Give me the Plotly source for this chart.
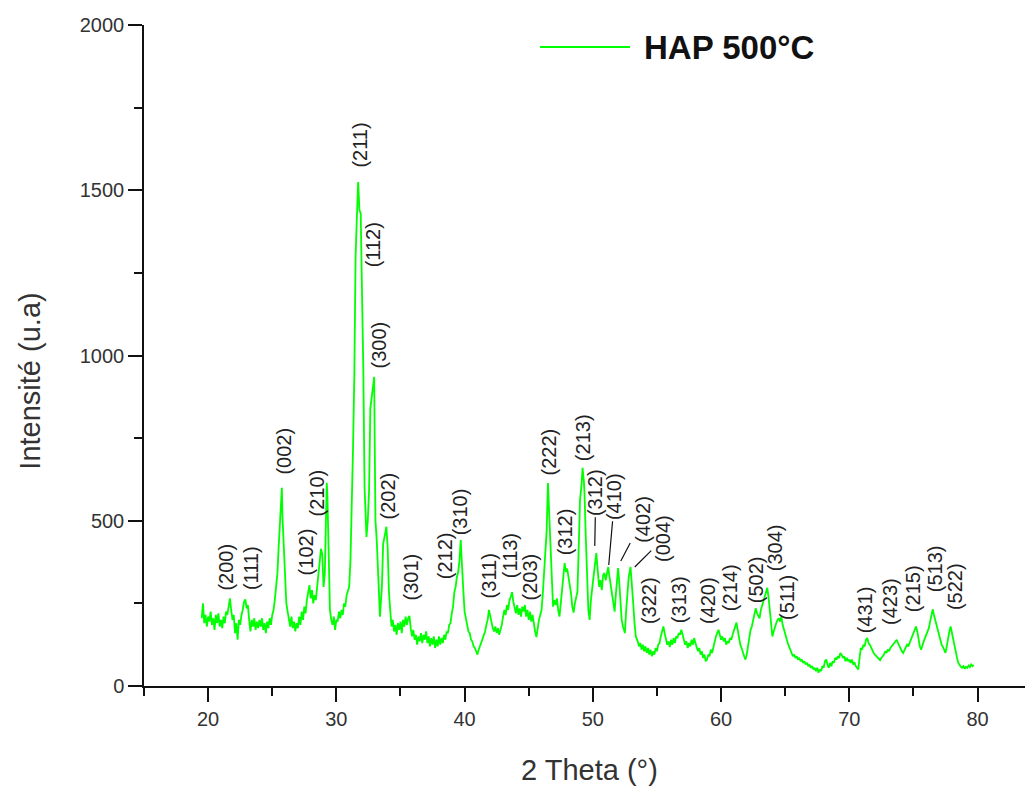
import plotly.graph_objects as go

# ---------------- data ----------------
two_theta = [
    19.5, 19.6, 19.7, 19.8, 19.9,
    20.0, 20.1, 20.2, 20.3, 20.4, 20.5, 20.6, 20.7, 20.8, 20.9,
    21.0, 21.1, 21.2, 21.3, 21.4, 21.5, 21.6, 21.7, 21.8, 21.9,
    22.0, 22.1, 22.2, 22.3, 22.4, 22.5, 22.6, 22.7, 22.8, 22.9,
    23.0, 23.1, 23.2, 23.3, 23.4, 23.5, 23.6, 23.7, 23.8, 23.9,
    24.0, 24.1, 24.2, 24.3, 24.4, 24.5, 24.6, 24.7, 24.8, 24.9,
    25.0, 25.1, 25.2, 25.3, 25.4, 25.5, 25.6, 25.7, 25.75, 25.8, 25.9,
    26.0, 26.1, 26.2, 26.3, 26.4, 26.5, 26.6, 26.7, 26.8, 26.9,
    27.0, 27.1, 27.2, 27.3, 27.4, 27.5, 27.6, 27.7, 27.8, 27.9,
    28.0, 28.1, 28.2, 28.3, 28.4, 28.5, 28.6, 28.7, 28.8, 28.9,
    29.0, 29.1, 29.2, 29.25, 29.3, 29.4, 29.5, 29.6, 29.7, 29.8, 29.9,
    30.0, 30.1, 30.2, 30.3, 30.4, 30.5, 30.6, 30.7, 30.8, 30.9,
    31.0, 31.1, 31.2, 31.3, 31.4, 31.5, 31.6, 31.7, 31.8, 31.9,
    32.0, 32.1, 32.2, 32.3, 32.35, 32.45, 32.55, 32.65, 32.75, 32.85, 32.95,
    33.0, 33.05, 33.15, 33.25, 33.4, 33.55, 33.65, 33.8, 33.9,
    34.0, 34.1, 34.2, 34.3, 34.4, 34.5, 34.6, 34.7, 34.8, 34.9,
    35.0, 35.1, 35.2, 35.3, 35.4, 35.5, 35.6, 35.7, 35.8, 35.9,
    36.0, 36.1, 36.2, 36.3, 36.4, 36.5, 36.6, 36.7, 36.8, 36.9,
    37.0, 37.1, 37.2, 37.3, 37.4, 37.5, 37.6, 37.7, 37.8, 37.9,
    38.0, 38.1, 38.2, 38.3, 38.4, 38.5, 38.6, 38.7, 38.8, 38.9,
    39.0, 39.1, 39.2, 39.3, 39.4, 39.5, 39.6, 39.7, 39.75, 39.8, 39.9,
    40.0, 40.1, 40.2, 40.3, 40.4, 40.5, 40.6, 40.7, 40.8, 40.9,
    41.0, 41.1, 41.2, 41.3, 41.4, 41.5, 41.6, 41.7, 41.8, 41.9,
    42.0, 42.1, 42.2, 42.3, 42.4, 42.5, 42.6, 42.7, 42.8, 42.9,
    43.0, 43.1, 43.2, 43.3, 43.4, 43.5, 43.6, 43.7, 43.8, 43.9,
    44.0, 44.1, 44.2, 44.3, 44.4, 44.5, 44.6, 44.7, 44.8, 44.9,
    45.0, 45.1, 45.2, 45.3, 45.4, 45.5, 45.6, 45.7, 45.8, 45.9,
    46.0, 46.1, 46.2, 46.3, 46.4, 46.5, 46.6, 46.7, 46.8, 46.9,
    47.0, 47.1, 47.2, 47.3, 47.4, 47.5, 47.6, 47.7, 47.8, 47.9,
    48.0, 48.1, 48.2, 48.3, 48.4, 48.5, 48.6, 48.7, 48.8, 48.9,
    49.0, 49.1, 49.2, 49.3, 49.35, 49.45, 49.55, 49.65, 49.75, 49.85,
    50.0, 50.1, 50.2, 50.27, 50.4, 50.5, 50.6, 50.7, 50.8, 50.9,
    51.0, 51.1, 51.2, 51.3, 51.45, 51.55, 51.7, 51.8, 51.9, 51.97,
    52.05, 52.15, 52.25, 52.35, 52.5, 52.6, 52.7, 52.8, 52.94,
    53.05, 53.15, 53.25, 53.35, 53.5, 53.6, 53.7, 53.8, 53.9,
    54.0, 54.1, 54.2, 54.3, 54.4, 54.5, 54.6, 54.7, 54.8, 54.9,
    55.0, 55.1, 55.2, 55.3, 55.4, 55.5, 55.6, 55.7, 55.8, 55.9,
    56.0, 56.1, 56.2, 56.3, 56.4, 56.5, 56.6, 56.7, 56.8, 56.9,
    57.0, 57.1, 57.2, 57.3, 57.4, 57.5, 57.6, 57.7, 57.8, 57.9,
    58.0, 58.1, 58.2, 58.3, 58.4, 58.5, 58.6, 58.7, 58.8, 58.9,
    59.0, 59.1, 59.2, 59.3, 59.4, 59.5, 59.6, 59.7, 59.8, 59.9,
    60.0, 60.1, 60.2, 60.3, 60.4, 60.5, 60.6, 60.7, 60.8, 60.9,
    61.0, 61.1, 61.2, 61.3, 61.4, 61.5, 61.6, 61.7, 61.8, 61.9,
    62.0, 62.1, 62.2, 62.3, 62.4, 62.5, 62.6, 62.7, 62.8, 62.9,
    63.0, 63.1, 63.2, 63.3, 63.4, 63.5, 63.6, 63.7, 63.8, 63.9,
    64.0, 64.1, 64.2, 64.3, 64.4, 64.5, 64.6, 64.7, 64.8, 64.9,
    65.0, 65.1, 65.2, 65.3, 65.4, 65.5, 65.6, 65.7, 65.8, 65.9,
    66.0, 66.1, 66.2, 66.3, 66.4, 66.5, 66.6, 66.7, 66.8, 66.9,
    67.0, 67.1, 67.2, 67.3, 67.4, 67.5, 67.6, 67.7, 67.8, 67.9,
    68.0, 68.1, 68.2, 68.3, 68.4, 68.5, 68.6, 68.7, 68.8, 68.9,
    69.0, 69.1, 69.2, 69.3, 69.4, 69.5, 69.6, 69.7, 69.8, 69.9,
    70.0, 70.1, 70.2, 70.3, 70.4, 70.5, 70.6, 70.7, 70.8, 70.9,
    71.0, 71.1, 71.2, 71.3, 71.4, 71.5, 71.6, 71.7, 71.8, 71.9,
    72.0, 72.1, 72.2, 72.3, 72.4, 72.5, 72.6, 72.7, 72.8, 72.9,
    73.0, 73.1, 73.2, 73.3, 73.4, 73.5, 73.6, 73.7, 73.8, 73.9,
    74.0, 74.1, 74.2, 74.3, 74.4, 74.5, 74.6, 74.7, 74.8, 74.9,
    75.0, 75.1, 75.2, 75.3, 75.4, 75.5, 75.6, 75.7, 75.8, 75.9,
    76.0, 76.1, 76.2, 76.3, 76.4, 76.5, 76.6, 76.7, 76.8, 76.9,
    77.0, 77.1, 77.2, 77.3, 77.4, 77.5, 77.6, 77.7, 77.8, 77.9,
    78.0, 78.1, 78.2, 78.3, 78.4, 78.5, 78.6, 78.7, 78.8, 78.9,
    79.0, 79.1, 79.2, 79.3, 79.4, 79.5, 79.6, 79.7,
]

intensity = [
    205, 250, 190, 215, 180,
    210, 195, 225, 185, 205, 170, 215, 190, 220, 180,
    200, 175, 210, 190, 225, 215, 250, 265, 230, 200,
    215, 160, 190, 140, 200, 185, 215, 230, 255, 262,
    235, 245, 200, 165, 200, 180, 205, 170, 195, 175,
    200, 180, 205, 170, 190, 160, 195, 175, 205, 185,
    215, 230, 260, 300, 340, 420, 480, 560, 600, 510, 420,
    360, 250, 225, 200, 180, 210, 175, 195, 165, 190,
    175, 210, 185, 225, 200, 240, 220, 260, 280, 305,
    265, 290, 250, 275, 260, 300, 340, 380, 415, 400,
    300, 340, 520, 615, 580, 430, 230, 200, 185, 210, 170,
    200, 195, 225, 205, 230, 215, 250, 240, 275, 290,
    300, 380, 520, 720, 935, 1300, 1420, 1525, 1440, 1430,
    1190, 965, 600, 480, 451, 500, 590, 840, 870, 900, 935,
    700, 500, 440, 320, 210, 300, 430, 460, 482,
    420, 285, 230, 180, 200, 165, 185, 155, 190, 170,
    195, 160, 200, 180, 210, 185, 205, 212, 175, 150,
    170, 140, 155, 125, 150, 135, 160, 130, 155, 140,
    165, 130, 150, 120, 145, 125, 150, 115, 140, 120,
    150, 125, 145, 130, 155, 140, 165, 160, 185, 190,
    220, 240, 285, 300, 330, 345, 380, 442, 400, 350, 290,
    225, 200, 185, 165, 160, 140, 135, 120, 115, 105,
    95, 110, 120, 135, 145, 155, 165, 185, 200, 230,
    210, 195, 175, 165, 180, 160, 175, 155, 170, 185,
    210, 230, 215, 245, 230, 260, 270, 284, 255, 240,
    220, 245, 215, 235, 210, 240, 225, 245, 210, 230,
    200, 225, 195, 215, 180, 165, 148, 180, 200, 215,
    230, 280, 340, 380, 470, 614, 500, 440, 330, 240,
    260, 245, 265, 230, 210, 250, 300, 340, 372, 345,
    355, 330, 310, 280, 240, 222, 250, 270, 285, 420,
    563, 600, 660, 620, 584, 450, 330, 230, 200, 260,
    312, 350, 380, 402, 340, 300, 320, 290, 335, 342,
    320, 345, 360, 330, 290, 270, 225, 280, 340, 357,
    320, 250, 200, 180, 160, 230, 300, 330, 360,
    310, 250, 190, 150, 135, 120, 130, 110, 125,
    105, 120, 100, 115, 95, 110, 90, 105, 95, 115,
    105, 125, 130, 150, 165, 180, 160, 140, 125, 135,
    118, 140, 125, 145, 130, 150, 145, 160, 155, 170,
    150, 140, 125, 135, 115, 130, 120, 140, 125, 145,
    130, 120, 105, 115, 95, 105, 85, 95, 75, 80,
    95, 90, 110, 100, 120, 130, 150, 160, 170, 155,
    140, 150, 135, 145, 125, 135, 130, 145, 140, 155,
    165, 180, 192, 170, 145, 125, 115, 100, 90, 80,
    95, 120, 150, 170, 180, 200, 215, 235, 220, 210,
    205, 230, 245, 255, 270, 285, 297, 270, 235, 200,
    150, 165, 180, 190, 200, 205, 195, 210, 185, 170,
    155, 145, 130, 120, 110, 100, 90, 95, 85, 90,
    80, 85, 75, 80, 70, 75, 65, 70, 60, 65,
    55, 60, 50, 55, 45, 55, 40, 50, 45, 60,
    55, 75, 80, 65, 55, 70, 60, 75, 70, 85,
    80, 90, 85, 100, 95, 85, 90, 75, 85, 75,
    80, 70, 80, 65, 72, 60, 55, 50, 85, 115,
    110, 125, 120, 140, 145, 130, 125, 115, 110, 100,
    95, 90, 85, 80, 78, 85, 90, 95, 105, 100,
    110, 105, 115, 120, 125, 130, 135, 140, 130, 120,
    115, 105, 100, 110, 115, 125, 120, 130, 140, 150,
    160, 170, 180, 165, 140, 120, 110, 125, 135, 145,
    155, 160, 175, 195, 215, 232, 215, 200, 185, 170,
    150, 140, 125, 118, 110, 100, 120, 150, 165, 180,
    160, 140, 118, 100, 85, 70, 62, 58, 55, 60,
    52, 58, 55, 62, 57, 65, 60, 64,
]

# Miller-index labels: text, 2theta of label centre, intensity at label base
hkl_labels = ["(200)", "(111)", "(002)", "(102)", "(210)", "(211)", "(112)", "(300)",
              "(202)", "(301)", "(212)", "(310)", "(311)", "(113)", "(203)", "(222)",
              "(312)", "(213)", "(322)", "(313)", "(420)", "(214)", "(502)", "(304)",
              "(511)", "(431)", "(423)", "(215)", "(513)", "(522)"]
hkl_pos = [21.39, 23.34, 25.91, 27.63, 28.48, 31.84, 32.85, 33.32,
           34.02, 35.81, 38.54, 39.71, 41.89, 43.60, 45.09, 46.57,
           47.81, 49.29, 54.44, 56.78, 59.04, 60.75, 62.70, 64.26,
           65.19, 71.20, 73.22, 75.02, 76.65, 78.29]
hkl_base = [284, 284, 635, 330, 508, 1564, 1262, 956,
            499, 254, 318, 451, 260, 321, 254, 632,
            390, 675, 182, 185, 182, 221, 245, 342,
            194, 154, 179, 218, 278, 224]

# labels joined to their peak by a leader line
lead_labels = ["(312)", "(410)", "(402)", "(004)"]
lead_label_pos = [50.23, 51.71, 53.89, 55.53]
lead_label_mid = [586, 574, 505, 447]
lead_peak_pos = [50.15, 51.24, 52.18, 53.27]
lead_peak_int = [424, 366, 378, 360]

series_name = "HAP 500°C"

# ---------------- figure ----------------
GREEN = "#00FF00"
TXT = "#222222"
FONT = "Liberation Sans, Arial, sans-serif"

fig = go.Figure()
fig.add_trace(go.Scatter(x=two_theta, y=intensity, mode="lines",
                         name=series_name, showlegend=False,
                         line=dict(color=GREEN, width=1.8)))

annotations = []
for t, xp, yb in zip(hkl_labels, hkl_pos, hkl_base):
    annotations.append(dict(x=xp, y=yb, xref="x", yref="y", text=t,
                            textangle=-90, showarrow=False,
                            xanchor="center", yanchor="bottom",
                            font=dict(family=FONT, size=20, color=TXT)))
for t, lx, ly, px_, py_ in zip(lead_labels, lead_label_pos, lead_label_mid,
                               lead_peak_pos, lead_peak_int):
    annotations.append(dict(x=px_, y=py_, xref="x", yref="y",
                            ax=lx, ay=ly, axref="x", ayref="y",
                            text=t, textangle=-90, showarrow=True,
                            arrowhead=0, arrowwidth=1.2, arrowcolor="#111",
                            standoff=0, startstandoff=0,
                            font=dict(family=FONT, size=20, color=TXT)))

# axis titles
annotations.append(dict(x=-0.129, y=0.461, xref="paper", yref="paper",
                        text="Intensité (u.a)", textangle=-90, showarrow=False,
                        xanchor="center", yanchor="middle",
                        font=dict(family=FONT, size=29, color="#333")))
annotations.append(dict(x=0.5057, y=-0.127, xref="paper", yref="paper",
                        text="2 Theta (°)", showarrow=False,
                        xanchor="center", yanchor="middle",
                        font=dict(family=FONT, size=29, color="#333")))
# legend text
annotations.append(dict(x=0.5653, y=0.9667, xref="paper", yref="paper",
                        text="<b>" + series_name + "</b>", showarrow=False,
                        xanchor="left", yanchor="middle",
                        font=dict(family=FONT, size=33, color="#111")))

shapes = [dict(type="line", xref="paper", yref="paper",
               x0=0.4495, x1=0.5516, y0=0.9667, y1=0.9667,
               line=dict(color=GREEN, width=2))]

fig.update_layout(
    width=1028, height=787,
    margin=dict(l=144, r=3, t=25, b=101),
    paper_bgcolor="white", plot_bgcolor="white",
    annotations=annotations, shapes=shapes,
    showlegend=False,
)
fig.update_xaxes(range=[15, 83.7], tickmode="linear", tick0=0, dtick=10,
                 ticks="outside", ticklen=14, tickwidth=1.5, tickcolor="#111",
                 minor=dict(dtick=5, tick0=0, ticks="outside", ticklen=8,
                            tickwidth=1.5, tickcolor="#111"),
                 showline=True, linecolor="#111", linewidth=1.5,
                 showgrid=False, zeroline=False,
                 tickfont=dict(family=FONT, size=20, color="#333"))
fig.update_yaxes(range=[0, 2000], tickmode="linear", tick0=0, dtick=500,
                 ticks="outside", ticklen=14, tickwidth=1.5, tickcolor="#111",
                 minor=dict(dtick=250, tick0=0, ticks="outside", ticklen=8,
                            tickwidth=1.5, tickcolor="#111"),
                 showline=True, linecolor="#111", linewidth=1.5,
                 showgrid=False, zeroline=False,
                 tickfont=dict(family=FONT, size=20, color="#333"))

fig.write_html("out.html")
